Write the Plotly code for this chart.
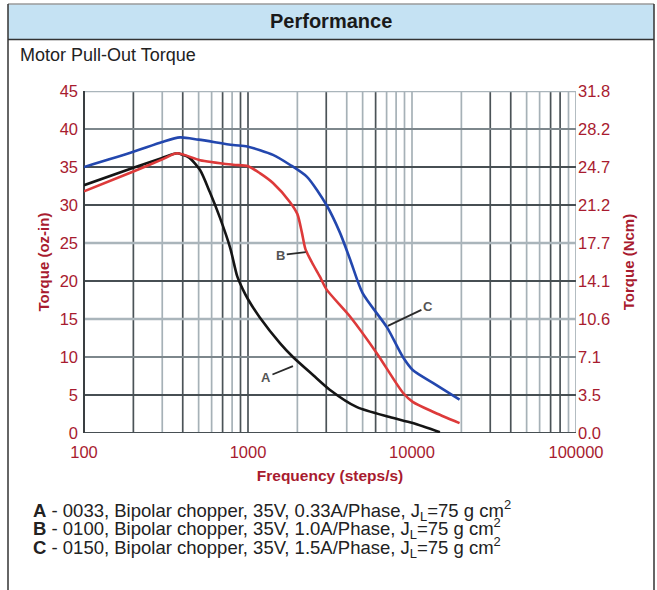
import plotly.graph_objects as go
import math

# ---------------- data ----------------
freq_A = [100, 200, 300, 369, 400, 440, 510, 585, 675, 780, 860, 930, 1000, 1180, 1570, 1880, 2500, 3150, 4620, 7310, 10100, 14800]
torque_A = [32.6, 34.9, 36.2, 36.8, 36.6, 36.2, 34.6, 31.7, 28.3, 24.3, 20.6, 18.9, 17.6, 15.2, 11.8, 10.0, 7.6, 5.7, 3.4, 2.1, 1.3, 0.1]

freq_B = [100, 200, 300, 369, 510, 811, 1000, 1180, 1420, 1800, 2000, 2130, 2240, 2460, 2740, 3010, 4200, 6100, 8800, 10100, 13400, 19500]
torque_B = [31.8, 34.4, 36.0, 36.8, 35.9, 35.3, 35.1, 34.2, 32.9, 30.4, 28.8, 26.4, 24.2, 22.4, 20.6, 18.9, 15.3, 10.5, 5.3, 4.1, 2.8, 1.3]

freq_C = [100, 200, 300, 385, 500, 811, 990, 1420, 1800, 2290, 3010, 3630, 4200, 5000, 7040, 8800, 10100, 13400, 19500]
torque_C = [35.0, 37.0, 38.3, 38.9, 38.6, 37.9, 37.7, 36.6, 35.3, 33.7, 30.0, 26.4, 22.8, 18.4, 13.9, 10.0, 8.3, 6.6, 4.4]

series_names = ["A", "B", "C"]
series_colors = ["#151515", "#dd3a3a", "#2347ae"]

x_decades = [100, 1000, 10000, 100000]
x_tick_text = ["100", "1000", "10000", "100000"]
y_left_ticks = [0, 5, 10, 15, 20, 25, 30, 35, 40, 45]
y_right_text = ["0.0", "3.5", "7.1", "10.6", "14.1", "17.7", "21.2", "24.7", "28.2", "31.8"]
OZIN_TO_NCM = 0.70616

# curve label call-outs (point on curve)
label_freq = [1880, 2250, 7130]
label_torque = [8.8, 23.8, 14.1]

legend_lines = [
    "<b>A</b> - 0033, Bipolar chopper, 35V, 0.33A/Phase, J<sub>L</sub>=75 g cm<sup>2</sup>",
    "<b>B</b> - 0100, Bipolar chopper, 35V, 1.0A/Phase, J<sub>L</sub>=75 g cm<sup>2</sup>",
    "<b>C</b> - 0150, Bipolar chopper, 35V, 1.5A/Phase, J<sub>L</sub>=75 g cm<sup>2</sup>",
]

# ---------------- layout helpers ----------------
W, H = 657, 590
ML, MR, MT, MB = 84, 81, 91, 157
PW, PH = W - ML - MR, H - MT - MB


def px(x):
    return (x - ML) / PW


def py(y):
    return (H - MB - y) / PH


FONT = "Liberation Sans, Arial, sans-serif"
RED = "#a81b2f"

fig = go.Figure()

for name, fx, ty, col in zip(series_names, [freq_A, freq_B, freq_C],
                             [torque_A, torque_B, torque_C], series_colors):
    fig.add_trace(go.Scatter(x=fx, y=ty, mode="lines", name=name,
                             line=dict(color=col, width=2.6, shape="spline", smoothing=0.7),
                             hoverinfo="skip", showlegend=False))

# invisible trace for right axis
fig.add_trace(go.Scatter(x=[x_decades[0]], y=[0], yaxis="y2", mode="markers",
                         marker=dict(opacity=0), showlegend=False, hoverinfo="skip"))

shapes = []
# grid lines
dark_x = {100, 200, 400, 700, 900, 1000, 3000, 6000, 30000, 40000, 70000, 80000}
grid_x = [k * d for d in x_decades[:-1] for k in range(1, 10)] + [x_decades[-1]]
for gx in grid_x:
    col = "#4b5357" if gx in dark_x else "#a6b1b7"
    shapes.append(dict(type="line", xref="x", yref="paper", x0=gx, x1=gx, y0=0, y1=1,
                       line=dict(color=col, width=1.7), layer="below"))
dark_y = {0, 5, 20, 30, 35}
mid_y = {10, 40}
for gy in y_left_ticks:
    if gy in dark_y:
        col, wd = "#474f53", 2.0
    elif gy in mid_y:
        col, wd = "#7d878c", 2.0
    else:
        col, wd = "#aab5bb", 2.4
    shapes.append(dict(type="line", xref="paper", yref="y", x0=0, x1=1, y0=gy, y1=gy,
                       line=dict(color=col, width=wd), layer="below"))
shapes.append(dict(type="line", xref="paper", yref="paper", x0=0, x1=0, y0=0, y1=1,
                   line=dict(color="#3a3f42", width=2), layer="below"))

# header band and frame
shapes.append(dict(type="rect", xref="paper", yref="paper", x0=px(8), x1=px(654),
                   y0=py(39), y1=py(4), fillcolor="#c5e2f3", line=dict(width=0), layer="below"))
shapes.append(dict(type="line", xref="paper", yref="paper", x0=px(8), x1=px(654),
                   y0=py(4), y1=py(4), line=dict(color="#9a9a9a", width=1.5)))
shapes.append(dict(type="line", xref="paper", yref="paper", x0=px(8), x1=px(654),
                   y0=py(39.5), y1=py(39.5), line=dict(color="#333333", width=1.5)))
for fx in (8, 654):
    shapes.append(dict(type="line", xref="paper", yref="paper", x0=px(fx), x1=px(fx),
                       y0=py(4), y1=py(592), line=dict(color="#333333", width=1.5)))

annotations = []
annotations.append(dict(text="<b>Performance</b>", xref="paper", yref="paper",
                        x=px(331), y=py(21), xanchor="center", yanchor="middle", showarrow=False,
                        font=dict(family=FONT, size=20, color="#1a1a1a")))
annotations.append(dict(text="Motor Pull-Out Torque", xref="paper", yref="paper",
                        x=px(18), y=py(55), xanchor="left", yanchor="middle", showarrow=False,
                        font=dict(family=FONT, size=18, color="#222222")))

offsets = [(-27, 11), (-25, 3), (40, -19)]
for lab, fq, tq, (ox, oy) in zip(series_names, label_freq, label_torque, offsets):
    annotations.append(dict(text="<b>%s</b>" % lab, x=math.log10(fq), y=tq, xref="x", yref="y",
                            ax=ox, ay=oy, showarrow=True, arrowhead=0, arrowwidth=1.8,
                            arrowcolor="#2a2a2a", standoff=0, startstandoff=0,
                            font=dict(family=FONT, size=13, color="#555555")))

for i, line in enumerate(legend_lines):
    annotations.append(dict(text=line, xref="paper", yref="paper",
                            x=px(31), y=py(510 + i * 18.7), xanchor="left", yanchor="middle",
                            showarrow=False, align="left",
                            font=dict(family=FONT, size=18.5, color="#222222")))

fig.update_layout(
    width=W, height=H,
    margin=dict(l=ML, r=MR, t=MT, b=MB, pad=0),
    paper_bgcolor="white", plot_bgcolor="white",
    shapes=shapes, annotations=annotations,
    xaxis=dict(type="log", range=[2, 5], tickvals=x_decades, ticktext=x_tick_text,
               showgrid=False, zeroline=False, showline=False, ticks="",
               ticklabelstandoff=7,
               tickfont=dict(family=FONT, size=16.5, color=RED),
               title=dict(text="<b>Frequency (steps/s)</b>", standoff=10,
                          font=dict(family=FONT, size=15.5, color=RED))),
    yaxis=dict(range=[0, 45], tickvals=y_left_ticks, showgrid=False, zeroline=False,
               showline=False, ticks="", ticklabelstandoff=5,
               tickfont=dict(family=FONT, size=16.5, color=RED),
               title=dict(text="<b>Torque (oz-in)</b>", standoff=6,
                          font=dict(family=FONT, size=15, color=RED))),
    yaxis2=dict(overlaying="y", side="right", range=[0, 45 * OZIN_TO_NCM],
                tickvals=[v * OZIN_TO_NCM for v in y_left_ticks], ticktext=y_right_text,
                showgrid=False, zeroline=False, showline=False, ticks="", ticklabelstandoff=1,
                tickfont=dict(family=FONT, size=16.5, color=RED),
                title=dict(text="<b>Torque (Ncm)</b>", standoff=14,
                           font=dict(family=FONT, size=15, color=RED))),
)

fig.write_html("out.html")
